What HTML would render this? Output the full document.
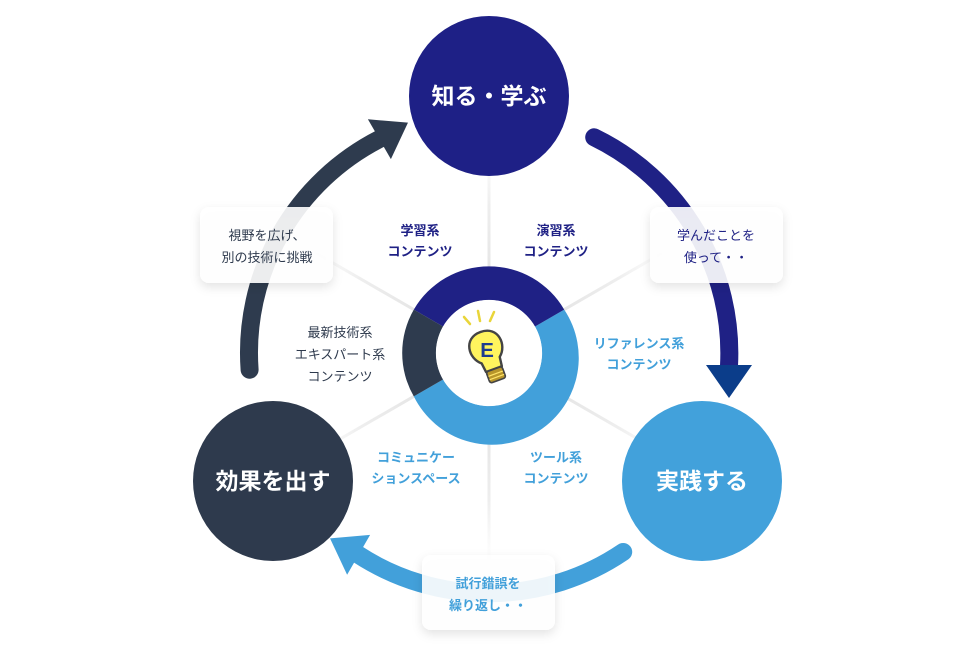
<!DOCTYPE html>
<html><head><meta charset="utf-8"><style>
html,body{margin:0;padding:0;background:#fff;}
svg{display:block;}
text{font-family:"Liberation Sans","Noto Sans CJK JP",sans-serif;}
</style></head><body>
<svg width="980" height="661" viewBox="0 0 980 661" xmlns="http://www.w3.org/2000/svg">
<defs>
<filter id="sh" x="-20%" y="-20%" width="140%" height="160%"><feDropShadow dx="0" dy="4" stdDeviation="5" flood-color="#000" flood-opacity="0.12"/></filter>
<linearGradient id="sep" gradientUnits="userSpaceOnUse" x1="489" y1="0" x2="700" y2="0"><stop offset="0.4" stop-color="#e6e6e6"/><stop offset="0.7" stop-color="#eeeeee"/><stop offset="1" stop-color="#f2f2f2" stop-opacity="0"/></linearGradient>
</defs>
<!-- separators -->
<g>
<g transform="rotate(-90 489 353)"><rect x="489" y="351.5" width="211" height="3" fill="url(#sep)"/></g>
<g transform="rotate(-30 489 353)"><rect x="489" y="351.5" width="211" height="3" fill="url(#sep)"/></g>
<g transform="rotate(30 489 353)"><rect x="489" y="351.5" width="211" height="3" fill="url(#sep)"/></g>
<g transform="rotate(90 489 353)"><rect x="489" y="351.5" width="211" height="3" fill="url(#sep)"/></g>
<g transform="rotate(150 489 353)"><rect x="489" y="351.5" width="211" height="3" fill="url(#sep)"/></g>
<g transform="rotate(210 489 353)"><rect x="489" y="351.5" width="211" height="3" fill="url(#sep)"/></g>
</g>
<!-- arrows -->
<g>
<path d="M 594.2 137.3 A 240 240 0 0 1 729 366" fill="none" stroke="#1f2185" stroke-width="18" stroke-linecap="round"/>
<polygon points="706,365 752,365 729,398" fill="#0b3d8a"/>
</g>
<g transform="rotate(120 489 353)">
<path d="M 594.2 137.3 A 240 240 0 0 1 729 366" fill="none" stroke="#42a0da" stroke-width="18" stroke-linecap="round"/>
<polygon points="706,365 752,365 729,398" fill="#42a0da"/>
</g>
<g transform="rotate(240 489 353)">
<path d="M 594.2 137.3 A 240 240 0 0 1 729 366" fill="none" stroke="#2e3b4e" stroke-width="18" stroke-linecap="round"/>
<polygon points="706,365 752,365 729,398" fill="#2e3b4e"/>
</g>
<!-- ring -->
<path d="M 564.2 309.6 A 87 87 0 1 1 413.8 396.4 L 443 379.5 A 53 53 0 1 0 535 326.5 Z" fill="#42a0da"/>
<path d="M 413.8 309.6 A 87 87 0 0 1 564.2 309.6 L 535 326.5 A 53 53 0 0 0 443 326.5 Z" fill="#1f2185"/>
<path d="M 413.8 309.6 A 87 87 0 0 0 413.8 396.4 L 443 379.5 A 53 53 0 0 1 443 326.5 Z" fill="#2e3b4e"/>
<circle cx="489" cy="353" r="53" fill="#fff"/>
<!-- bulb -->
<g stroke-linecap="round">
<line x1="464" y1="317" x2="470" y2="324" stroke="#e9d53a" stroke-width="2.5"/>
<line x1="478" y1="311" x2="480" y2="321" stroke="#e9d53a" stroke-width="2.5"/>
<line x1="494" y1="312" x2="490" y2="321" stroke="#e9d53a" stroke-width="2.5"/>
<g transform="translate(487,350) rotate(-20) scale(1.2)">
<path d="M -8 9 C -17 2 -16 -16 0 -16 C 16 -16 17 2 8 9 L 7 17 L -7 17 Z" fill="#fff45e" stroke="#444" stroke-width="2" stroke-linejoin="round"/>
<rect x="-7" y="17" width="14" height="10" rx="2" fill="#b8962a" stroke="#444" stroke-width="1.4"/>
<line x1="-6" y1="21" x2="6" y2="21" stroke="#ffe46a" stroke-width="1"/>
<line x1="-6" y1="24" x2="6" y2="24" stroke="#ffe46a" stroke-width="1"/>
<text x="0" y="6" font-size="17" font-weight="bold" fill="#1f3c8f" text-anchor="middle" transform="rotate(20)">E</text>
</g>
</g>
<!-- big circles -->
<circle cx="489" cy="96" r="80" fill="#1e2086"/>
<circle cx="702" cy="481" r="80" fill="#42a1db"/>
<circle cx="273" cy="481" r="80" fill="#2e3a4d"/>
<text x="489" y="104" font-size="23" font-weight="bold" fill="#fff" text-anchor="middle">知る・学ぶ</text>
<text x="702" y="489" font-size="23" font-weight="bold" fill="#fff" text-anchor="middle">実践する</text>
<text x="273" y="489" font-size="23" font-weight="bold" fill="#fff" text-anchor="middle">効果を出す</text>
<!-- boxes -->
<rect x="200" y="207" width="133" height="76" rx="9" fill="#fff" fill-opacity="0.9" filter="url(#sh)"/>
<rect x="650" y="207" width="133" height="76" rx="9" fill="#fff" fill-opacity="0.9" filter="url(#sh)"/>
<rect x="422" y="555" width="133" height="75" rx="9" fill="#fff" fill-opacity="0.9" filter="url(#sh)"/>
<g font-size="13" text-anchor="middle">
<text x="267" y="240" fill="#2e3a4d">視野を広げ、</text>
<text x="267" y="262" fill="#2e3a4d">別の技術に挑戦</text>
<text x="716" y="240" fill="#1f2185">学んだことを</text>
<text x="716" y="262" fill="#1f2185">使って・・</text>
<text x="488" y="588" fill="#42a0da" font-weight="bold">試行錯誤を</text>
<text x="488" y="610" fill="#42a0da" font-weight="bold">繰り返し・・</text>
</g>
<g font-size="13" text-anchor="middle" font-weight="bold">
<text x="420" y="235" fill="#1f2185">学習系</text>
<text x="420" y="256" fill="#1f2185">コンテンツ</text>
<text x="556" y="235" fill="#1f2185">演習系</text>
<text x="556" y="256" fill="#1f2185">コンテンツ</text>
<text x="639" y="348" fill="#42a0da">リファレンス系</text>
<text x="639" y="369" fill="#42a0da">コンテンツ</text>
<text x="556" y="462" fill="#42a0da">ツール系</text>
<text x="556" y="483" fill="#42a0da">コンテンツ</text>
<text x="416" y="462" fill="#42a0da">コミュニケー</text>
<text x="416" y="483" fill="#42a0da">ションスペース</text>
</g>
<g font-size="13" text-anchor="middle" fill="#2e3a4d">
<text x="340" y="337">最新技術系</text>
<text x="340" y="359">エキスパート系</text>
<text x="340" y="381">コンテンツ</text>
</g>
</svg>
</body></html>
